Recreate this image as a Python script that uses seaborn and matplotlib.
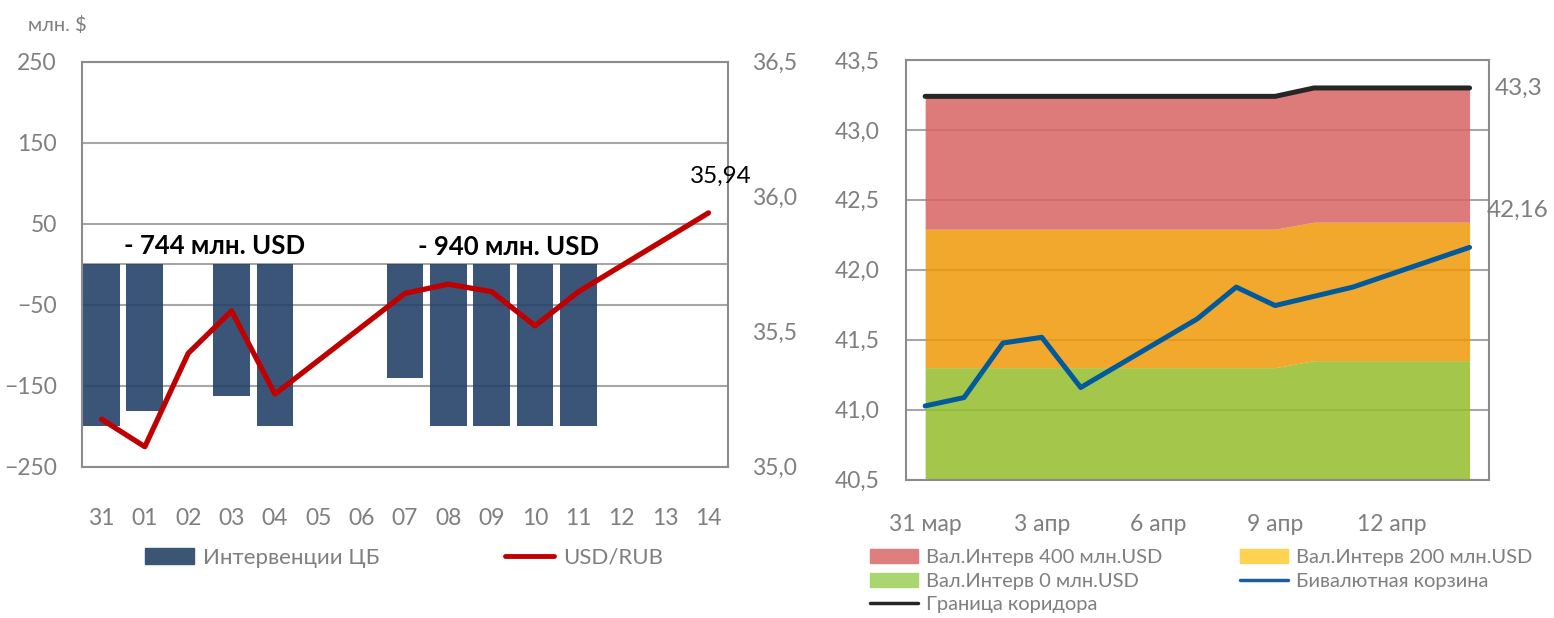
import numpy as np
import pandas as pd
import matplotlib.pyplot as plt
import matplotlib.patches as mpatches
import matplotlib.lines as mlines
from matplotlib.ticker import FuncFormatter
import seaborn as sns

# Left panel: CB interventions (mln USD) and USD/RUB, 31 Mar - 14 Apr 2014
days = ['31', '01', '02', '03', '04', '05', '06', '07', '08', '09', '10', '11', '12', '13', '14']
interventions = [-200, -181, np.nan, -163, -200, np.nan, np.nan, -140, -200, -200, -200, -200, np.nan, np.nan, np.nan]
usd_rub = [35.176, 35.074, 35.42, 35.577, 35.269, np.nan, np.nan, 35.642, 35.676, 35.648, 35.522, 35.648,
           np.nan, np.nan, 35.94]
sum_labels = ['- 744 млн. USD', '- 940 млн. USD']

# Right panel: bi-currency basket and corridor bands
dates = ['2014-03-31', '2014-04-01', '2014-04-02', '2014-04-03', '2014-04-04', '2014-04-05', '2014-04-06',
         '2014-04-07', '2014-04-08', '2014-04-09', '2014-04-10', '2014-04-11', '2014-04-12', '2014-04-13',
         '2014-04-14']
basket = [41.026, 41.086, 41.476, 41.517, 41.158, np.nan, np.nan, 41.649, 41.876, 41.744, 41.81, 41.876,
          np.nan, np.nan, 42.16]
corridor_top = [43.24, 43.24, 43.24, 43.24, 43.24, 43.24, 43.24, 43.24, 43.24, 43.24,
                43.30, 43.30, 43.30, 43.30, 43.30]
band_200 = [42.29, 42.29, 42.29, 42.29, 42.29, 42.29, 42.29, 42.29, 42.29, 42.29,
            42.34, 42.34, 42.34, 42.34, 42.34]
band_0 = [41.30, 41.30, 41.30, 41.30, 41.30, 41.30, 41.30, 41.30, 41.30, 41.30,
          41.35, 41.35, 41.35, 41.35, 41.35]
tick_dates = ['2014-03-31', '2014-04-03', '2014-04-06', '2014-04-09', '2014-04-12']
tick_labels = ['31 мар', '3 апр', '6 апр', '9 апр', '12 апр']

left = pd.DataFrame({'day': days, 'cb': interventions, 'rate': usd_rub, 'pos': np.arange(len(days))})
right = pd.DataFrame({'date': pd.to_datetime(dates), 'basket': basket, 'top': corridor_top,
                      'mid': band_200, 'low': band_0})

sns.set_theme(style="white")
plt.rcParams['font.family'] = ['Lato', 'DejaVu Sans']

GRAY_TXT = '#7F7F7F'
GRID = '#A6A6A6'
SPINE = '#8C8C8C'
comma = FuncFormatter(lambda v, _: f'{v:.1f}'.replace('.', ','))

fig = plt.figure(figsize=(15.54, 6.18), dpi=100)
ax1 = fig.add_axes([82 / 1554, 1 - 466.7 / 618, 646 / 1554, 405 / 618])
ax2 = ax1.twinx()
axr = fig.add_axes([905.7 / 1554, 1 - 479.5 / 618, 583.3 / 1554, 419.5 / 618])

# ---- left panel
sns.barplot(data=left, x='day', y='cb', order=days, color='#25426A', saturation=1, alpha=0.9,
            width=0.85, linewidth=0, errorbar=None, ax=ax1, zorder=2)
ax1.axhline(0, color=GRID, lw=1.5, zorder=1)
ax1.set_ylim(-250, 250)
ax1.set_yticks(range(-250, 251, 100))
ax1.yaxis.grid(True, color=GRID, lw=1.5)
ax1.set_axisbelow(True)
ax1.set_xlim(-0.45, 14.45)
ax1.set_xlabel('')
ax1.set_ylabel('')
ax1.tick_params(axis='y', length=0, labelsize=16.5, labelcolor=GRAY_TXT, pad=18)
ax1.tick_params(axis='x', length=0, labelsize=16.5, labelcolor=GRAY_TXT, pad=30)
for s in ax1.spines.values():
    s.set_color(SPINE)
    s.set_linewidth(1.5)

ax1.text(2.6, 23, sum_labels[0], ha='center', va='center', fontsize=18.5, fontweight='bold', color='black')
ax1.text(9.4, 21, sum_labels[1], ha='center', va='center', fontsize=18.5, fontweight='bold', color='black')

sns.lineplot(data=left.dropna(subset=['rate']), x='pos', y='rate', color='#C00000', lw=3.8,
             solid_capstyle='round', ax=ax2)
ax2.set_ylim(35.0, 36.5)
ax2.set_yticks([35.0, 35.5, 36.0, 36.5])
ax2.yaxis.set_major_formatter(comma)
ax2.set_xlim(-0.45, 14.45)
ax2.set_ylabel('')
ax2.set_xlabel('')
ax2.tick_params(axis='y', length=0, labelsize=16.5, labelcolor=GRAY_TXT, pad=17)
for s in ax2.spines.values():
    s.set_visible(False)
ax2.annotate(f'{usd_rub[-1]:.2f}'.replace('.', ','), xy=(left['pos'].iloc[-1], usd_rub[-1]),
             xytext=(9, 26), textcoords='offset points', ha='center', va='center',
             fontsize=17.5, color='black')

fig.text(57 / 1554, 1 - 25 / 618, 'млн. $', ha='center', va='center', fontsize=14.5, color=GRAY_TXT)

fig.legend(handles=[mpatches.Patch(color='#3B5575', label='Интервенции ЦБ')], loc='center left',
           bbox_to_anchor=(145 / 1554, 1 - 558 / 618), frameon=False, borderpad=0, borderaxespad=0,
           handlelength=2.2, handletextpad=0.4, fontsize=16, labelcolor=GRAY_TXT)
fig.legend(handles=[mlines.Line2D([], [], color='#C00000', lw=3.5, label='USD/RUB')], loc='center left',
           bbox_to_anchor=(505 / 1554, 1 - 558 / 618), frameon=False, borderpad=0, borderaxespad=0,
           handlelength=2.2, handletextpad=0.4, fontsize=16, labelcolor=GRAY_TXT)

# ---- right panel
y_min, y_max = 40.5, 43.5
axr.fill_between(right['date'], y_min, right['low'], color='#94BE2B', alpha=0.85, lw=0, zorder=2)
axr.fill_between(right['date'], right['low'], right['mid'], color='#F09808', alpha=0.85, lw=0, zorder=2)
axr.fill_between(right['date'], right['mid'], right['top'], color='#D86464', alpha=0.85, lw=0, zorder=2)
sns.lineplot(data=right, x='date', y='top', color='#262626', lw=3.6, solid_capstyle='round', ax=axr, zorder=3)
sns.lineplot(data=right.dropna(subset=['basket']), x='date', y='basket', color='#005A9C', lw=3.6,
             ax=axr, zorder=4)
axr.set_ylim(y_min, y_max)
axr.set_yticks(np.arange(40.5, 43.51, 0.5))
axr.yaxis.set_major_formatter(comma)
axr.yaxis.grid(True, color=GRID, lw=1.5)
axr.set_axisbelow(True)
axr.set_xticks(pd.to_datetime(tick_dates))
axr.set_xticklabels(tick_labels)
axr.set_xlim(right['date'].iloc[0] - pd.Timedelta(hours=12), right['date'].iloc[-1] + pd.Timedelta(hours=12))
axr.set_xlabel('')
axr.set_ylabel('')
axr.tick_params(axis='y', length=0, labelsize=16.5, labelcolor=GRAY_TXT, pad=18.5)
axr.tick_params(axis='x', length=0, labelsize=16.5, labelcolor=GRAY_TXT, pad=25)
for s in axr.spines.values():
    s.set_color(SPINE)
    s.set_linewidth(1.5)

last = right.iloc[-1]
axr.annotate(f'{last["top"]:.1f}'.replace('.', ','), xy=(last['date'], last['top']), xytext=(18, 0),
             textcoords='offset points', ha='left', va='center', fontsize=17.5, color=GRAY_TXT,
             annotation_clip=False)
axr.annotate(f'{last["basket"]:.2f}'.replace('.', ','), xy=(last['date'], last['basket']), xytext=(12, 26.5),
             textcoords='offset points', ha='left', va='center', fontsize=17.5, color=GRAY_TXT,
             annotation_clip=False)

col1 = [mpatches.Patch(color='#DE7E7E', label='Вал.Интерв 400 млн.USD'),
        mpatches.Patch(color='#A9D66F', label='Вал.Интерв 0 млн.USD'),
        mlines.Line2D([], [], color='#262626', lw=2.5, label='Граница коридора')]
col2 = [mpatches.Patch(color='#FFD351', label='Вал.Интерв 200 млн.USD'),
        mlines.Line2D([], [], color='#1F5C99', lw=2.5, label='Бивалютная корзина')]
for handles, x0 in [(col1, 870), (col2, 1240)]:
    fig.legend(handles=handles, loc='upper left', bbox_to_anchor=(x0 / 1554, 1 - 549 / 618), frameon=False,
               borderpad=0, borderaxespad=0, handlelength=2.4, handletextpad=0.4, labelspacing=0.32,
               fontsize=14.5, labelcolor=GRAY_TXT)

fig.savefig('out.png', dpi=100)
